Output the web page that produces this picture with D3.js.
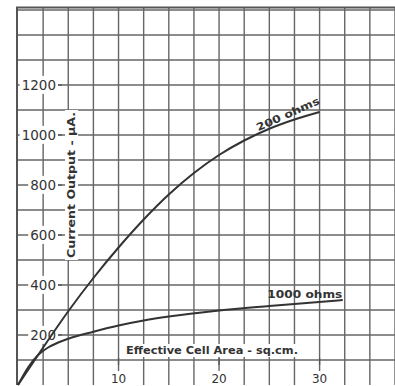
<!DOCTYPE html>
<html>
<head>
<meta charset="utf-8">
<script src="https://cdn.jsdelivr.net/npm/d3@7"></script>
<style>
  body { margin: 0; background: #fff; }
  svg { display: block; }
  text { font-family: "DejaVu Sans", sans-serif; fill: #333; }
</style>
</head>
<body>
<svg id="chart"></svg>
<script>
// Data (x: sq.cm, y: microamps)
const area200 = [0, 2.5, 5, 7.5, 10, 12.5, 15, 17.5, 20, 22.5, 25, 27.5, 30];
const current200 = [0, 150, 295, 428, 550, 662, 762, 848, 920, 978, 1025, 1062, 1092];
const area1000 = [0, 1, 2, 3, 4, 5, 7.5, 10, 12.5, 15, 20, 25, 32.3];
const current1000 = [0, 70, 120, 150, 170, 185, 213, 238, 258, 274, 298, 316, 340];
const xTicks = [10, 20, 30];
const yTicks = [200, 400, 600, 800, 1000, 1200];

const width = 395, height = 386;
const svg = d3.select('#chart').attr('width', width).attr('height', height);

// Scales
const x = d3.scaleLinear().domain([0, 37.6]).range([18, 396]);
const y = d3.scaleLinear().domain([0, 1510]).range([385, 7.5]);

// Grid
const grid = svg.append('g').attr('stroke', '#666').attr('stroke-width', 1.4);
grid.selectAll('.vline')
  .data(d3.range(2.5, 37.6, 2.5))
  .join('line')
    .attr('x1', d => x(d)).attr('x2', d => x(d))
    .attr('y1', y(1510)).attr('y2', y(0));
grid.selectAll('.hline')
  .data(d3.range(100, 1501, 100))
  .join('line')
    .attr('y1', d => y(d)).attr('y2', d => y(d))
    .attr('x1', x(0)).attr('x2', width);

// Frame (left and top)
svg.append('path')
  .attr('d', `M${x(0) - 1},${y(0)}V${y(1510)}H${width}`)
  .attr('fill', 'none').attr('stroke', '#555').attr('stroke-width', 2);

// Labels with white knock-out boxes
function boxed(sel, pad) {
  sel.each(function() {
    const bb = this.getBBox();
    const t = d3.select(this).attr('transform');
    d3.select(this.parentNode).insert('rect', () => this)
      .attr('x', bb.x - pad).attr('y', bb.y - 1)
      .attr('width', bb.width + pad * 2).attr('height', bb.height + 2)
      .attr('transform', t)
      .attr('fill', '#fff');
  });
}

// Y tick labels
const yAxis = svg.append('g');
yTicks.forEach(v => {
  const g = yAxis.append('g');
  const t = g.append('text')
    .attr('x', 56).attr('y', y(v)).attr('dy', '0.36em')
    .attr('text-anchor', 'end')
    .attr('font-size', 13.5)
    .text(v);
  boxed(t, 2);
  g.append('line')
    .attr('x1', 58).attr('x2', 62).attr('y1', y(v)).attr('y2', y(v))
    .attr('stroke', '#555').attr('stroke-width', 1.3);
});

// X tick labels
const xAxis = svg.append('g');
xTicks.forEach(v => {
  const g = xAxis.append('g');
  const t = g.append('text')
    .attr('x', x(v)).attr('y', 383)
    .attr('text-anchor', 'middle')
    .attr('font-size', 12)
    .text(v);
  boxed(t, 3);
  g.append('line')
    .attr('x1', x(v)).attr('x2', x(v)).attr('y1', 358).attr('y2', 365)
    .attr('stroke', '#555').attr('stroke-width', 1.3);
});

// Axis titles
const xt = svg.append('g').append('text')
  .attr('x', 126).attr('y', 354)
  .attr('font-size', 10).attr('font-weight', 'bold')
  .attr('textLength', 172).attr('lengthAdjust', 'spacingAndGlyphs')
  .text('Effective Cell Area - sq.cm.');
boxed(xt, 5);

const yt = svg.append('g').append('text')
  .attr('transform', 'translate(75,258) rotate(-90)')
  .attr('font-size', 10).attr('font-weight', 'bold')
  .attr('textLength', 146).attr('lengthAdjust', 'spacingAndGlyphs')
  .text('Current Output - μA.');
boxed(yt, 2);

// Curves
const line = d3.line().curve(d3.curveMonotoneX).x(d => x(d[0])).y(d => y(d[1]));
svg.append('path')
  .datum(d3.zip(area200, current200))
  .attr('d', line)
  .attr('fill', 'none').attr('stroke', '#333').attr('stroke-width', 2);
svg.append('path')
  .datum(d3.zip(area1000, current1000))
  .attr('d', line)
  .attr('fill', 'none').attr('stroke', '#333').attr('stroke-width', 2);

// Curve labels
svg.append('text')
  .attr('transform', `translate(${x(23.9)},${y(1015)}) rotate(-24)`)
  .attr('font-size', 10.5).attr('font-weight', 'bold')
  .attr('textLength', 68).attr('lengthAdjust', 'spacingAndGlyphs')
  .text('200 ohms');
svg.append('text')
  .attr('x', x(24.8)).attr('y', y(348))
  .attr('font-size', 10.5).attr('font-weight', 'bold')
  .attr('textLength', 75).attr('lengthAdjust', 'spacingAndGlyphs')
  .text('1000 ohms');
</script>
</body>
</html>
